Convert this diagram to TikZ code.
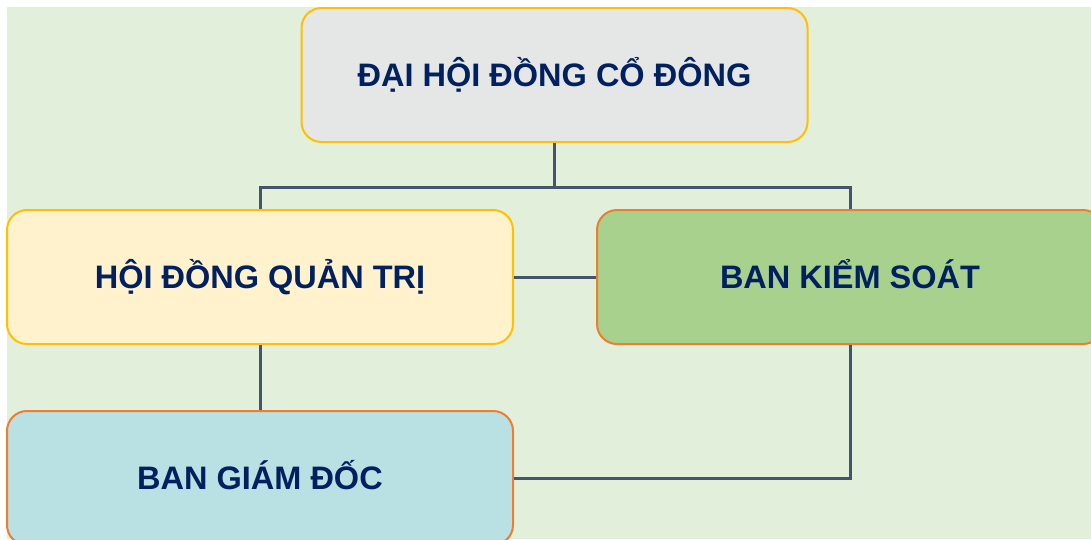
\documentclass[tikz,border=0pt]{standalone}
\usepackage{fontspec}
\setmainfont{Liberation Sans}
\usetikzlibrary{positioning}
\definecolor{bggreen}{HTML}{E2EFDA}
\definecolor{gold}{HTML}{FFC000}
\definecolor{orangeline}{HTML}{ED7D31}
\definecolor{greybox}{HTML}{E5E7E6}
\definecolor{creambox}{HTML}{FFF2CC}
\definecolor{greenbox}{HTML}{A9D18E}
\definecolor{bluebox}{HTML}{B9E0E3}
\definecolor{navy}{HTML}{002060}
\definecolor{slate}{HTML}{44546A}

\begin{document}
\begin{tikzpicture}
    [x=1pt,y=-1pt,every node/.style={rounded corners=20pt,rectangle,line width=2pt,minimum width=506pt,minimum height=134pt,text height=23pt,text depth=0pt,text=navy,font=\fontsize{32.5}{38}\selectfont\bfseries},
    link/.style={draw=slate,line width=3pt}]
    \useasboundingbox (0,0) rectangle (1091,539);
    \fill[bggreen] (7,7) rectangle (1091,539);

    \node[draw=gold,fill=greybox] (Dh) at (554.5,75) {ĐẠI HỘI ĐỒNG CỔ ĐÔNG};
    \node[draw=gold,fill=creambox] (Hd) at (260,277) {HỘI ĐỒNG QUẢN TRỊ};
    \node[draw=orangeline,fill=greenbox,right=82pt of Hd] (Bk) {BAN KIỂM SOÁT};
    \node[draw=orangeline,fill=bluebox,below=65pt of Hd] (Bg) {BAN GIÁM ĐỐC};

    % \draw (Dh) edge (Hd);
    \draw[link] (Dh.south) -- ++(0,44) -| (Hd.north);
    \draw[link] (Dh.south) ++(0,44) -| (Bk.north);
    \draw[link] (Hd.east) -- (Bk.west);
    \draw[link] (Hd.south) -- (Bg.north);
    \draw[link] (Bk.south) |- (Bg.east);
\end{tikzpicture}
\end{document}
